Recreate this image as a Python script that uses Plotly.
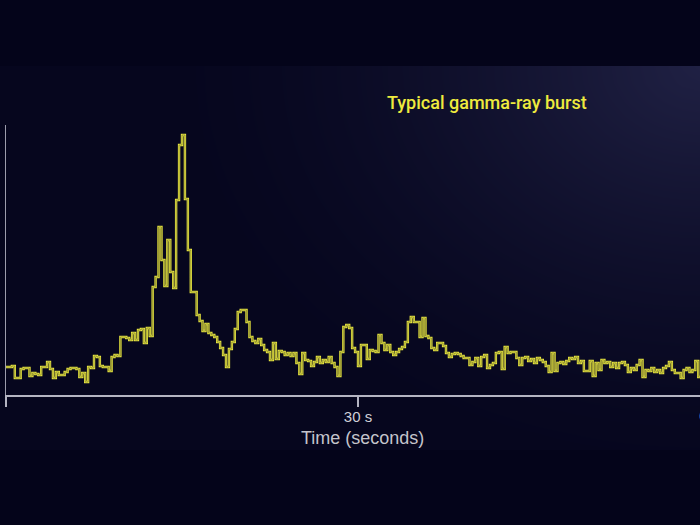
import numpy as np
import plotly.graph_objects as go

# ---- data ----
bin_width_s = 0.25  # seconds per bin
counts = [
    28, 28, 29, 17, 17, 26, 27, 27, 19, 22, 21, 20, 28, 28, 33,
    26, 17, 23, 20, 20, 23, 26, 27, 27, 26, 18, 22, 13, 28, 27,
    39, 38, 29, 28, 28, 24, 38, 40, 39, 58, 58, 57, 55, 62, 55,
    65, 66, 52, 67, 59, 108, 118, 168, 135, 109, 155, 123, 107, 195, 250,
    260, 196, 145, 103, 103, 80, 74, 64, 71, 62, 60, 58, 53, 47, 40,
    28, 46, 53, 66, 83, 85, 85, 73, 58, 54, 52, 56, 50, 45, 43,
    35, 52, 36, 44, 43, 40, 42, 39, 42, 32, 21, 42, 35, 34, 29,
    33, 38, 32, 35, 33, 38, 32, 28, 19, 43, 68, 70, 67, 47, 43,
    29, 50, 50, 36, 45, 44, 43, 60, 52, 45, 50, 43, 40, 43, 46,
    48, 53, 73, 78, 73, 73, 58, 77, 59, 57, 47, 45, 52, 52, 49,
    42, 38, 41, 42, 41, 39, 37, 37, 30, 33, 37, 29, 38, 40, 27,
    30, 32, 42, 43, 26, 48, 42, 43, 43, 37, 30, 37, 38, 34, 36,
    32, 37, 35, 33, 29, 23, 42, 24, 32, 33, 31, 34, 37, 36, 38,
    32, 34, 24, 24, 34, 19, 32, 25, 35, 32, 33, 28, 32, 27, 32,
    33, 30, 23, 27, 25, 30, 35, 18, 25, 24, 27, 23, 25, 22, 27,
    29, 33, 25, 22, 22, 17, 25, 27, 23, 25, 34, 18,
]
tick_values = [0, 30]
tick_labels = ["", "30 s"]
title_text = "Typical gamma-ray burst"
axis_title = "Time (seconds)"

# step edges
times = list(np.arange(len(counts) + 1) * bin_width_s)
step_counts = counts + [counts[-1]]

# ---- background gradient panel (decoration only) ----
W, H = 700, 525
gx = np.linspace(0, 700, 40)
gy = np.linspace(66, 450, 24)
GX, GY = np.meshgrid(gx, gy)
dist = np.sqrt((700 - GX) ** 2 + ((GY - 66) * 1.3) ** 2)
glow = np.clip(1 - dist / 540, 0, 1) ** 1.6

fig = go.Figure()
fig.add_trace(go.Heatmap(
    x=gx, y=gy, z=glow, zmin=0, zmax=1, zsmooth="best",
    colorscale=[[0, "rgb(6,6,30)"], [1, "rgb(32,33,68)"]],
    showscale=False, hoverinfo="skip", xaxis="x", yaxis="y",
))

yellow = "#e8e63e"
fig.add_trace(go.Scatter(
    x=times, y=step_counts, mode="lines", line_shape="hv",
    line=dict(color=yellow, width=2.4), xaxis="x2", yaxis="y2",
    hoverinfo="skip", showlegend=False,
))
fig.add_trace(go.Scatter(
    x=times, y=step_counts, mode="lines", line_shape="hv",
    line=dict(color="#7a7830", width=0.7), xaxis="x2", yaxis="y2",
    hoverinfo="skip", showlegend=False,
))

px_per_s = (358 - 6) / 30.0
x_max = (700 - 6) / px_per_s

axis_grey = "#b4b4c2"
fig.update_layout(
    width=W, height=H,
    margin=dict(l=0, r=0, t=0, b=0),
    paper_bgcolor="#04041a",
    plot_bgcolor="rgba(0,0,0,0)",
    showlegend=False,
    font=dict(family="Liberation Sans, Arial, sans-serif", color="#c8c8d2"),
    xaxis=dict(domain=[0, 1], range=[0, 700], visible=False, fixedrange=True),
    yaxis=dict(domain=[(H - 450) / H, (H - 66) / H], range=[450, 66],
               visible=False, fixedrange=True),
    xaxis2=dict(
        domain=[6 / W, 1], range=[0, x_max], anchor="y2",
        showline=True, linecolor=axis_grey, linewidth=1.5,
        showgrid=False, zeroline=False,
        ticks="outside", ticklen=10, tickwidth=1.5, tickcolor=axis_grey,
        tickvals=tick_values, ticktext=tick_labels,
        tickfont=dict(size=15, color="#d0d0d8"),
        ticklabelstandoff=-3,
    ),
    yaxis2=dict(
        domain=[(H - 395) / H, (H - 125) / H], range=[0, 270], anchor="x2",
        showline=True, linecolor="#9c9cac", linewidth=1,
        showgrid=False, zeroline=False, showticklabels=False, ticks="",
    ),
    annotations=[
        dict(text=title_text, xref="paper", yref="paper",
             x=487 / W, y=(H - 102) / H, xanchor="center", yanchor="middle",
             showarrow=False,
             font=dict(family="Roboto, Liberation Sans, sans-serif", size=18,
                       weight=500, color="#eeea3e")),
        dict(text=axis_title, xref="paper", yref="paper",
             x=362 / W, y=(H - 438) / H, xanchor="center", yanchor="middle",
             showarrow=False, font=dict(size=18, color="#c4c4cc")),
        dict(text="60 s", xref="paper", yref="paper",
             x=713 / W, y=(H - 415) / H, xanchor="center", yanchor="middle",
             showarrow=False, font=dict(size=15, color="#d0d0d8")),
    ],
)

fig.write_html(
    "out.html",
    config={"displayModeBar": False},
    post_script="document.body.style.margin='0';document.body.style.overflow='hidden';",
)
